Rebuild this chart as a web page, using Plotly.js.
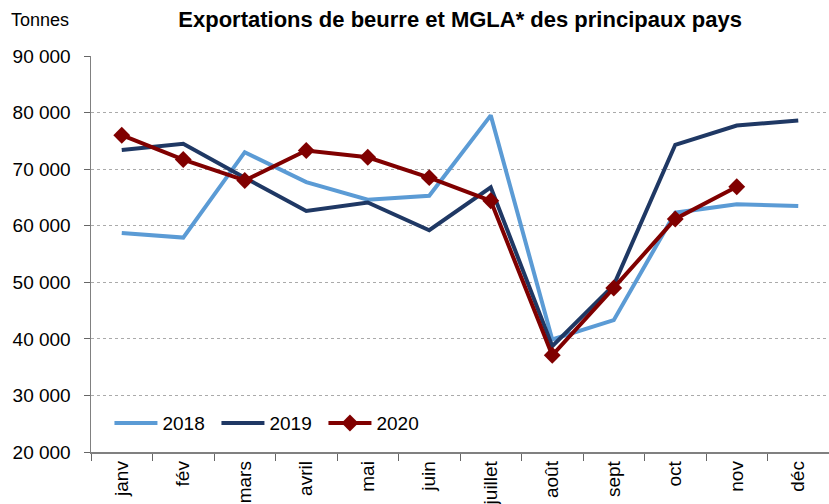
<!DOCTYPE html>
<html><head><meta charset="utf-8">
<script src="https://cdn.plot.ly/plotly-3.0.1.min.js"></script>
<style>html,body{margin:0;padding:0;background:#fff}#chart{width:829px;height:504px}</style>
</head><body><div id="chart"></div>
<script>
const months = ["janv","fév","mars","avril","mai","juin","juillet","août","sept","oct","nov","déc"];
const s2018 = [58700,57900,73000,67700,64600,65300,79500,39900,43300,62300,63800,63500];
const s2019 = [73400,74500,68500,62600,64100,59200,66800,38700,49500,74300,77700,78600];
const s2020 = [76000,71700,68000,73300,72100,68500,64400,37100,49000,61200,66900,null];
const yTicks = [20000,30000,40000,50000,60000,70000,80000,90000];

const font = "Liberation Sans, Arial, sans-serif";
const traces = [
  {x: months, y: s2018, name: "2018", type: "scatter", mode: "lines",
   line: {color: "#5B9BD5", width: 4}},
  {x: months, y: s2019, name: "2019", type: "scatter", mode: "lines",
   line: {color: "#1F3864", width: 4}},
  {x: months, y: s2020, name: "2020", type: "scatter", mode: "lines+markers",
   line: {color: "#800000", width: 4},
   marker: {symbol: "diamond", size: 13, color: "#800000"}}
];
const layout = {
  width: 829, height: 504,
  margin: {l: 91, r: 0, t: 56, b: 52},
  paper_bgcolor: "#fff", plot_bgcolor: "#fff",
  separators: ", ",
  font: {family: font, size: 19, color: "#000"},
  title: {text: "<b>Exportations de beurre et MGLA* des principaux pays</b>",
    font: {family: font, size: 22, color: "#000"},
    x: 0.555, xanchor: "center", y: 0.962, yanchor: "middle"},
  showlegend: true,
  legend: {orientation: "h", x: 0.025, y: 0.025, xanchor: "left", yanchor: "bottom",
    font: {family: font, size: 19}, bgcolor: "rgba(0,0,0,0)",
    itemwidth: 43, entrywidth: 49},
  xaxis: {type: "category", tickangle: -90, showgrid: false,
    showline: true, linecolor: "#808080", linewidth: 1.5,
    ticks: "outside", tickson: "boundaries", ticklen: 7, tickcolor: "#666",
    automargin: false, tickfont: {family: font, size: 19}, range: [-0.5, 11.5]},
  yaxis: {range: [20000, 90000], tickvals: yTicks, tickformat: ",d",
    showgrid: true, gridcolor: "#aaa", griddash: "dot", gridwidth: 1,
    showline: true, linecolor: "#808080", linewidth: 1.5,
    ticks: "outside", ticklen: 6, tickcolor: "#666", zeroline: false,
    ticklabelstandoff: 9,
    automargin: false, tickfont: {family: font, size: 19}},
  annotations: [
    {text: "Tonnes", xref: "paper", yref: "paper", x: -0.111, y: 1.09,
     xanchor: "left", yanchor: "middle", showarrow: false,
     font: {family: font, size: 18, color: "#000"}}
  ]
};
Plotly.newPlot("chart", traces, layout, {displayModeBar: false, staticPlot: true});
</script></body></html>
